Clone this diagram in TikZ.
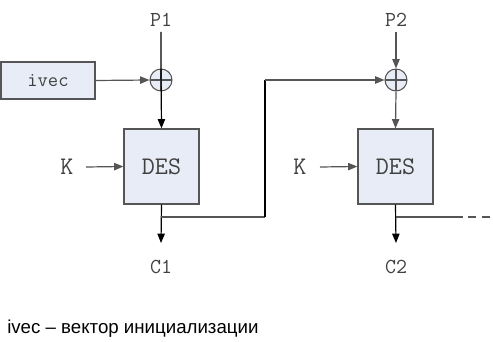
\documentclass[tikz,border=0pt]{standalone}
\usepackage{fontspec}
\setmainfont{Liberation Sans}
\usetikzlibrary{arrows.meta}
\definecolor{boxfill}{HTML}{E8ECF6}
\definecolor{edgegray}{HTML}{555555}
\begin{document}
\begin{tikzpicture}[x=0.75pt,y=-0.75pt,
  blk/.style={draw=edgegray,fill=boxfill,line width=0.9pt,inner sep=0pt,text=black!75},
  xorc/.style={circle,draw=edgegray,fill=boxfill,line width=0.8pt,minimum size=16.5pt,inner sep=0pt,
    path picture={\draw[edgegray,line width=0.8pt] (path picture bounding box.north) -- (path picture bounding box.south)
      (path picture bounding box.west) -- (path picture bounding box.east);}},
  lbl/.style={font=\ttfamily\fontsize{16}{16}\selectfont,text=black!75,inner sep=0pt},
  conn/.style={draw=edgegray,line width=0.9pt},
  arr/.style={conn,-{Triangle[length=7pt,width=5.5pt]}}
]
\useasboundingbox (0,0) rectangle (493,342);
% nodes
\node[blk,minimum width=70.5pt,minimum height=27.75pt,font=\ttfamily\fontsize{15}{15}\selectfont] (iv) at (48,80.5) {ivec};
\node[xorc] (x1) at (161,80) {};
\node[xorc] (x2) at (396,80) {};
\node[blk,minimum width=56.25pt,minimum height=56.25pt,font=\ttfamily\fontsize{19}{19}\selectfont] (d1) at (161.5,166.5) {DES};
\node[blk,minimum width=56.25pt,minimum height=56.25pt,font=\ttfamily\fontsize{19}{19}\selectfont] (d2) at (395.5,166.5) {DES};
\node[lbl] (p1) at (161,20) {P1};
\node[lbl] (p2) at (396,20) {P2};
\node[lbl,font=\ttfamily\fontsize{19}{19}\selectfont] (k1) at (67,167) {K};
\node[lbl,font=\ttfamily\fontsize{19}{19}\selectfont] (k2) at (300,167) {K};
\node[lbl] (c1) at (161,267) {C1};
\node[lbl] (c2) at (396,267) {C2};
\coordinate (j1) at (161,217);
\coordinate (j2) at (396,217);
\coordinate (t1) at (265,217);
\coordinate (t2) at (265,80);
\coordinate (e1) at (455,217);
\coordinate (e2) at (493,217);
\coordinate (k1s) at (86,167);
\coordinate (k2s) at (320,167);
\coordinate (p1s) at (161,32);
\coordinate (p2s) at (396,32);
\coordinate (c1e) at (161,243);
\coordinate (c2e) at (396,243);
% connectors
\draw[arr] (iv.east) -- (x1.west);
\draw[arr,draw=black] (p1s) -- (x1.north) -- (d1.north);
\draw[arr] (p2s) -- (x2.north);
\draw[arr] (x2.south) -- (d2.north);
\draw[arr] (k1s) -- (d1.west);
\draw[arr] (k2s) -- (d2.west);
\draw[arr,draw=black] (d1.south) -- (c1e);
\draw[arr,draw=black] (d2.south) -- (c2e);
\draw[conn] (j1) -- (t1);
\draw[conn,draw=black] (t1) -- (t2);
\draw[arr] (t2) -- (x2.west);
\draw[conn] (j2) -- (e1);
\draw[conn,dashed,dash pattern=on 6pt off 4pt] (e1) -- (e2);
% caption
\node[anchor=base west,inner sep=0pt,font=\fontsize{14}{14}\selectfont] (cap) at (7,333) {ivec – вектор инициализации};
\end{tikzpicture}
\end{document}
